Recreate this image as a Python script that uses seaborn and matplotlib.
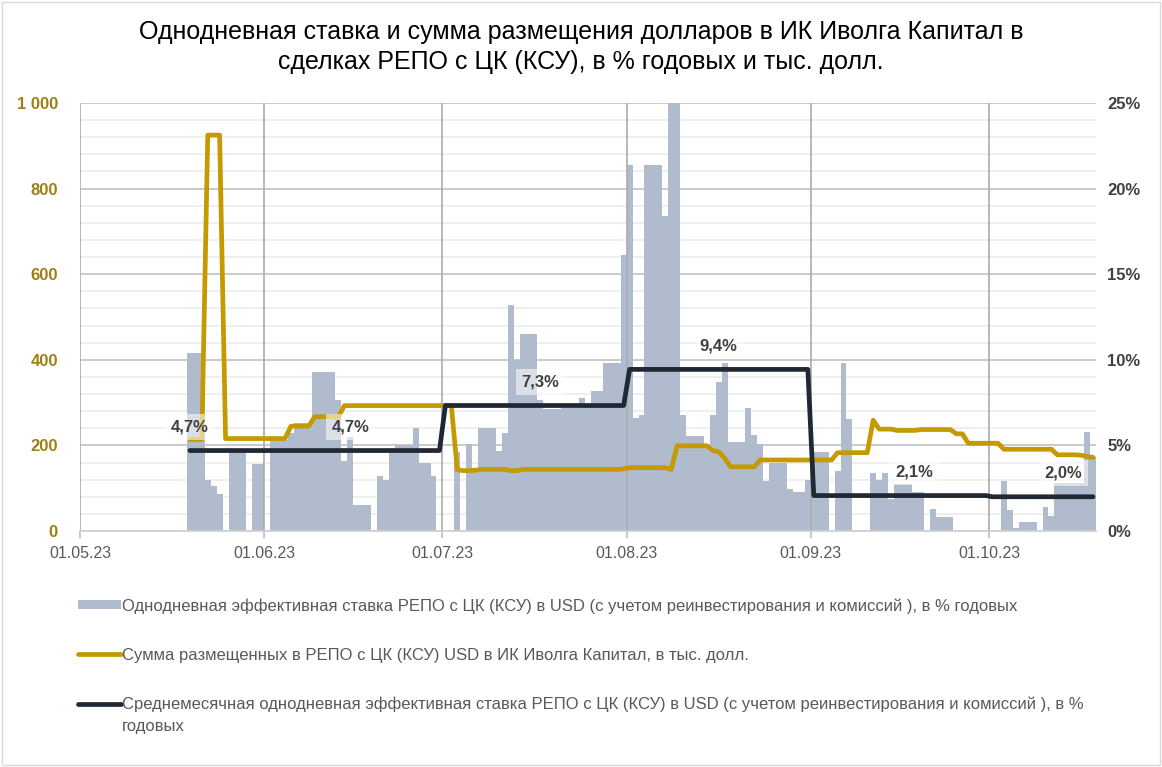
import pandas as pd
import matplotlib
matplotlib.use("Agg")
import matplotlib.pyplot as plt
import matplotlib.dates as mdates
from matplotlib.lines import Line2D
from matplotlib.patches import Patch, Rectangle
from matplotlib.ticker import MultipleLocator
import seaborn as sns

# DATA (daily values from 19.05.23 to 18.10.23)
start_date = "2023-05-19"
end_date = "2023-10-18"

# one-day effective REPO rate, % per year
rate_may = [10.4, 10.4, 10.4, 3.0, 2.6, 2.15, 0, 4.6, 4.6, 4.6, 0, 3.9, 3.9]
rate_jun = [0, 5.3, 5.3, 5.3, 5.75, 6.3, 6.3, 6.3, 9.3, 9.3, 9.3, 9.3, 7.65, 4.1, 5.5,
            1.5, 1.5, 1.5, 0, 3.2, 3.0, 4.7, 5.0, 5.0, 5.0, 6.0, 3.95, 3.95, 3.2, 0]
rate_jul = [0, 0, 4.6, 0, 5.1, 3.7, 6.0, 6.0, 6.0, 4.7, 5.7, 13.2, 10.0, 11.5, 11.5, 11.5,
            7.65, 7.1, 7.1, 7.1, 7.2, 7.2, 7.2, 7.75, 7.4, 8.15, 8.15, 9.8, 9.8, 9.8, 16.1]
rate_aug = [21.4, 6.6, 6.8, 21.4, 21.4, 21.4, 18.4, 25.6, 25.6, 6.8, 5.55, 5.55, 5.55, 5.0,
            6.8, 8.7, 9.8, 5.2, 5.2, 5.2, 7.2, 5.6, 5.1, 2.9, 3.95, 3.95, 3.95, 2.45, 2.25,
            2.25, 3.0]
rate_sep = [4.6, 4.6, 4.6, 0, 3.5, 9.8, 6.55, 0, 0, 0, 3.4, 3.0, 3.4, 1.85, 2.75, 2.75, 2.75,
            2.3, 2.3, 0, 1.3, 0.8, 0.8, 0.8, 0, 0, 0, 0, 0, 0]
rate_oct = [0, 0, 2.9, 1.2, 0.2, 0.5, 0.5, 0.5, 0, 1.4, 0.9, 2.8, 2.8, 2.8, 2.8, 2.8, 5.8, 4.35]

# amount placed in REPO, thousand USD
sum_may = [214, 214, 214, 925, 925, 925, 216, 216, 216, 216, 216, 216, 216]
sum_jun = [216, 216, 216, 216, 245, 245, 245, 245, 267, 267, 267, 267, 267, 293, 293,
           293, 293, 293, 293, 293, 293, 293, 293, 293, 293, 293, 293, 293, 293, 293]
sum_jul = [293, 293, 143, 141, 141, 142, 144, 144, 144, 144, 144, 141, 141, 144, 144, 144,
           144, 144, 144, 144, 144, 144, 144, 144, 144, 144, 144, 144, 144, 144, 145]
sum_aug = [148, 148, 148, 148, 148, 148, 148, 144, 199, 199, 199, 199, 199, 199, 188, 185,
           170, 150, 150, 150, 150, 150, 166, 166, 166, 166, 166, 166, 166, 166, 166]
sum_sep = [166, 166, 166, 166, 183, 183, 183, 183, 183, 183, 259, 238, 238, 238, 235, 235,
           235, 235, 237, 237, 237, 237, 237, 237, 227, 227, 205, 205, 205, 205]
sum_oct = [205, 205, 191, 191, 191, 191, 191, 191, 191, 191, 191, 178, 178, 178, 178, 177,
           174, 172]

# monthly average rate, %
avg_months = ["2023-05", "2023-06", "2023-07", "2023-08", "2023-09", "2023-10"]
avg_values = [4.7, 4.7, 7.33, 9.44, 2.07, 2.0]
label_dates = ["2023-05-19", "2023-06-15", "2023-07-17", "2023-08-16", "2023-09-18", "2023-10-13"]

title = ("Однодневная ставка и сумма размещения долларов в ИК Иволга Капитал в\n"
         "сделках РЕПО с ЦК (КСУ), в % годовых и тыс. долл.")
leg_rate = ("Однодневная эффективная ставка РЕПО с ЦК (КСУ) в USD (с учетом "
            "реинвестирования и комиссий ), в % годовых")
leg_sum = "Сумма размещенных в РЕПО с ЦК (КСУ) USD в ИК Иволга Капитал, в тыс. долл."
leg_avg = ("Среднемесячная однодневная эффективная ставка РЕПО с ЦК (КСУ) в USD (с учетом "
           "реинвестирования и комиссий ), в %")
leg_avg_wrap = "годовых"

# TABLE
dates = pd.date_range(start_date, end_date, freq="D")
df = pd.DataFrame({
    "date": dates + pd.Timedelta(hours=12),
    "rate": rate_may + rate_jun + rate_jul + rate_aug + rate_sep + rate_oct,
    "amount": sum_may + sum_jun + sum_jul + sum_aug + sum_sep + sum_oct,
})
df["month"] = dates.strftime("%Y-%m")
df["avg"] = df["month"].map(dict(zip(avg_months, avg_values)))

# COLORS
bar_color = "#B0BCCD"
gold = "#C49A00"
dark = "#1F2833"
grid_major = "#C6C6C6"
grid_minor = "#ECECEC"

sns.set_theme(style="white")
plt.rcParams["font.family"] = ["Liberation Sans", "DejaVu Sans"]

fig = plt.figure(figsize=(11.62, 7.67), dpi=100)
rect = [80 / 1162, 1 - 531 / 767, 1016 / 1162, 428 / 767]

ax_pct = fig.add_axes(rect)
ax_sum = fig.add_axes(rect, sharex=ax_pct)
ax_avg = fig.add_axes(rect, sharex=ax_pct, sharey=ax_pct)

# bars (right axis, %)
ax_pct.bar(df["date"], df["rate"], width=1.0, color=bar_color, linewidth=0, zorder=2)
ax_pct.set_ylim(0, 25)
ax_pct.set_xlim(pd.Timestamp("2023-05-01"), pd.Timestamp("2023-10-19"))
ax_pct.yaxis.tick_right()
ax_pct.yaxis.set_major_locator(MultipleLocator(5))
ax_pct.yaxis.set_minor_locator(MultipleLocator(1))
ax_pct.set_yticklabels([f"{v:.0f}%" for v in ax_pct.get_yticks()])
ax_pct.tick_params(axis="y", which="both", length=0, labelsize=12, labelcolor="#404040", pad=8)
for t in ax_pct.get_yticklabels():
    t.set_fontweight("bold")
ax_pct.xaxis.set_major_locator(mdates.MonthLocator())
ax_pct.xaxis.set_major_formatter(mdates.DateFormatter("%d.%m.%y"))
ax_pct.tick_params(axis="x", length=5, color="#BFBFBF", labelsize=11.5,
                   labelcolor="#595959", pad=6, bottom=True)
ax_pct.set_axisbelow(True)
ax_pct.grid(axis="y", which="major", color=grid_major, lw=1.3)
ax_pct.grid(axis="y", which="minor", color=grid_minor, lw=1.2)
# month separators drawn as solid lines over the light grid
for m in pd.date_range("2023-05-01", "2023-10-01", freq="MS"):
    ax_pct.axvline(m, color="#ABABAB", lw=1.2, zorder=2.5)
for s in ["top", "left", "right"]:
    ax_pct.spines[s].set_visible(False)
ax_pct.spines["bottom"].set_color("#D0D0D0")

# amount line (left axis)
sns.lineplot(data=df, x="date", y="amount", ax=ax_sum, color=gold, linewidth=3.4,
             solid_joinstyle="round", solid_capstyle="round", zorder=3)
ax_sum.set_ylim(0, 1000)
ax_sum.set_yticks(range(0, 1001, 200))
ax_sum.set_yticklabels(["0", "200", "400", "600", "800", "1 000"])
ax_sum.tick_params(axis="y", length=0, labelsize=12, labelcolor="#9E7F12", pad=16)
for t in ax_sum.get_yticklabels():
    t.set_fontweight("bold")
ax_sum.tick_params(axis="x", bottom=False, labelbottom=False)
ax_sum.patch.set_visible(False)
ax_sum.set_xlabel("")
ax_sum.set_ylabel("")
for s in ax_sum.spines.values():
    s.set_visible(False)

# monthly average line (right axis)
sns.lineplot(data=df, x="date", y="avg", ax=ax_avg, color=dark, linewidth=3.4,
             solid_joinstyle="round", solid_capstyle="round", zorder=4)
ax_avg.axis("off")
for d, v in zip(label_dates, avg_values):
    ax_avg.annotate(f"{v:.1f}".replace(".", ",") + "%",
                    xy=(pd.Timestamp(d) + pd.Timedelta(hours=12), v),
                    xytext=(0, 17), textcoords="offset points", ha="center", va="center",
                    fontsize=12, fontweight="bold", color="#404040",
                    bbox=dict(boxstyle="square,pad=0.35", fc="white", ec="none", alpha=0.55))

# TITLE
fig.text(0.5, 1 - 47 / 767, title, ha="center", va="center", fontsize=18,
         linespacing=1.35, color="black")

# LEGEND
handles = [Patch(facecolor=bar_color, edgecolor="none"),
           Line2D([0], [0], color=gold, lw=3.4),
           Line2D([0], [0], color=dark, lw=3.4)]
fig.legend(handles, [leg_rate, leg_sum, leg_avg], loc="upper left",
           bbox_to_anchor=(78 / 1162, 1 - 598 / 767), frameon=False, fontsize=12,
           handlelength=2.55, handleheight=0.5, handletextpad=0.12, labelspacing=2.05,
           borderpad=0, borderaxespad=0, labelcolor="#595959")
fig.text(122 / 1162, 1 - 727 / 767, leg_avg_wrap, ha="left", va="center", fontsize=12,
         color="#595959")

fig.patches.append(Rectangle((0.0015, 0.002), 0.997, 0.996, transform=fig.transFigure,
                             fill=False, ec="#D9D9D9", lw=1))

fig.savefig("out.png", dpi=100)
